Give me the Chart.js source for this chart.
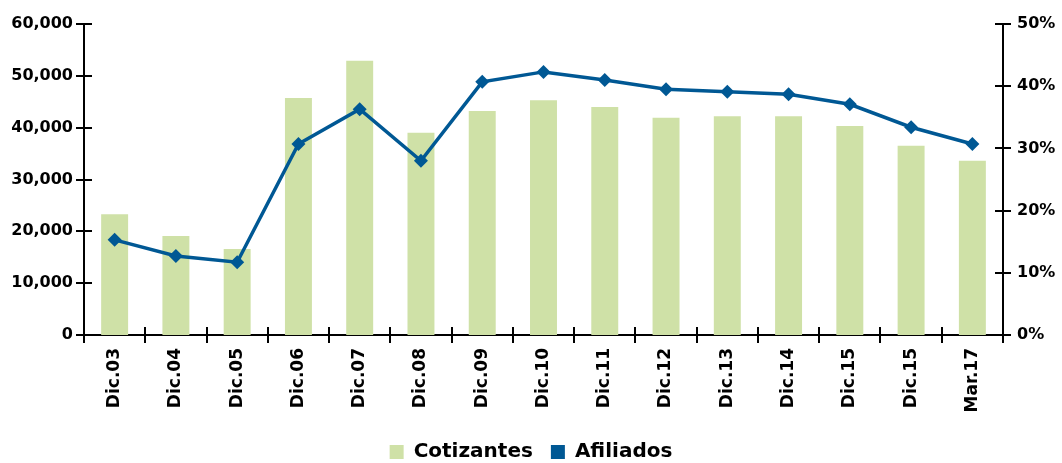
<!DOCTYPE html>
<html>
<head>
<meta charset="utf-8">
<script src="https://cdn.jsdelivr.net/npm/chart.js@4"></script>
<style>
    html, body { margin: 0; padding: 0; background: #fff; }
    #wrap { width: 1062px; height: 463px; }
</style>
</head>
<body>
<div id="wrap"><canvas id="myChart"></canvas></div>
<script>
// categorias y valores
const labels = ['Dic.03', 'Dic.04', 'Dic.05', 'Dic.06', 'Dic.07', 'Dic.08', 'Dic.09', 'Dic.10',
    'Dic.11', 'Dic.12', 'Dic.13', 'Dic.14', 'Dic.15', 'Dic.15', 'Mar.17'];
const cotizantes = [23300, 19100, 16600, 45700, 52900, 39000, 43200, 45300,
    44000, 41900, 42200, 42200, 40300, 36500, 33600];
const afiliados = [15.3, 12.7, 11.7, 30.7, 36.3, 28.0, 40.7, 42.3,
    41.0, 39.5, 39.1, 38.7, 37.1, 33.4, 30.7];
const leftTicks = [0, 10000, 20000, 30000, 40000, 50000, 60000];
const rightTicks = [0, 10, 20, 30, 40, 50];

const FONT = 'DejaVu Sans';

// ticks que cruzan el eje (como en Excel)
const crossTicks = {
    id: 'crossTicks',
    afterDraw(chart) {
        const ctx = chart.ctx;
        const half = 8;
        ctx.save();
        ctx.strokeStyle = '#000';
        ctx.lineWidth = 2;
        ctx.beginPath();
        const x = chart.scales.x;
        const n = labels.length;
        for (let i = 0; i <= n; i++) {
            const px = Math.round(x.left + i * x.width / n);
            ctx.moveTo(px, x.top - half);
            ctx.lineTo(px, x.top + half);
        }
        ['y', 'y1'].forEach(id => {
            const s = chart.scales[id];
            const ax = id === 'y' ? s.right : s.left;
            s.ticks.forEach(t => {
                const py = Math.round(s.getPixelForValue(t.value));
                ctx.moveTo(ax - half, py);
                ctx.lineTo(ax + half, py);
            });
        });
        ctx.stroke();
        ctx.restore();
    }
};

const ctx = document.getElementById('myChart').getContext('2d');
const chart = new Chart(ctx, {
    type: 'bar',
    data: {
        labels: labels,
        datasets: [{
            label: 'Cotizantes',
            data: cotizantes,
            backgroundColor: '#cfe1a7',
            borderColor: '#cfe1a7',
            borderWidth: 0,
            barPercentage: 0.44,
            categoryPercentage: 1,
            yAxisID: 'y',
            order: 1
        }, {
            type: 'line',
            label: 'Afiliados',
            data: afiliados,
            borderColor: '#005894',
            backgroundColor: '#005894',
            borderWidth: 3.5,
            pointStyle: 'rectRot',
            pointRadius: 7,
            pointBackgroundColor: '#005894',
            pointBorderWidth: 0,
            tension: 0,
            yAxisID: 'y1',
            order: 0
        }]
    },
    options: {
        responsive: true,
        maintainAspectRatio: false,
        animation: false,
        layout: { padding: { top: 24, left: 0, right: 0, bottom: -9 } },
        scales: {
            x: {
                grid: { display: false, drawTicks: false },
                border: { display: true, color: '#000', width: 2 },
                ticks: {
                    color: '#000',
                    font: { family: FONT, size: 17, weight: 'bold' },
                    minRotation: 90,
                    maxRotation: 90,
                    padding: 13,
                    autoSkip: false
                },
                afterFit(scale) { scale.height = 89; }
            },
            y: {
                position: 'left',
                min: 0,
                max: 60000,
                afterBuildTicks(scale) { scale.ticks = leftTicks.map(v => ({ value: v })); },
                grid: { display: false, drawTicks: false },
                border: { display: true, color: '#000', width: 2 },
                ticks: {
                    color: '#000',
                    font: { family: FONT, size: 16, weight: 'bold' },
                    padding: 11,
                    callback: v => v.toLocaleString('en-US')
                },
                afterFit(scale) { scale.width = 84; }
            },
            y1: {
                position: 'right',
                min: 0,
                max: 50,
                afterBuildTicks(scale) { scale.ticks = rightTicks.map(v => ({ value: v })); },
                grid: { display: false, drawTicks: false },
                border: { display: true, color: '#000', width: 2 },
                ticks: {
                    color: '#000',
                    font: { family: FONT, size: 16, weight: 'bold' },
                    padding: 14,
                    callback: v => v + '%'
                },
                afterFit(scale) { scale.width = 59; }
            }
        },
        plugins: {
            legend: {
                position: 'bottom',
                labels: {
                    color: '#000',
                    font: { family: FONT, size: 20, weight: 'bold' },
                    boxWidth: 14,
                    boxHeight: 14,
                    padding: 18,
                    sort: (a, b) => a.datasetIndex - b.datasetIndex,
                    generateLabels(chart) {
                        const items = Chart.defaults.plugins.legend.labels.generateLabels(chart);
                        items.forEach(it => { it.lineWidth = 0; });
                        return items;
                    }
                }
            },
            tooltip: { enabled: false }
        }
    },
    plugins: [crossTicks]
});
</script>
</body>
</html>
